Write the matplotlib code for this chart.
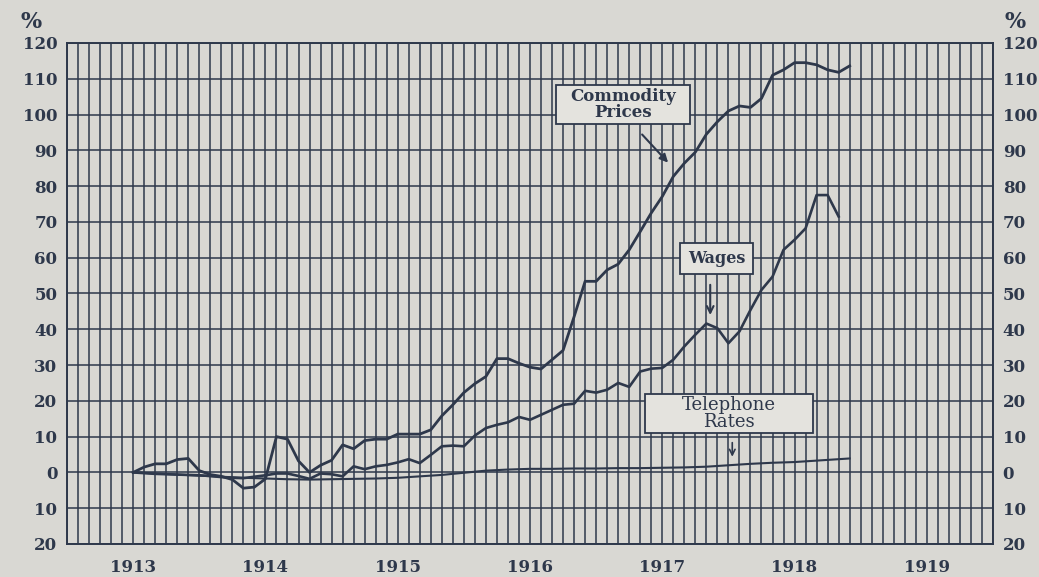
import matplotlib.pyplot as plt
import numpy as np
from matplotlib.patches import Rectangle
from matplotlib.ticker import FuncFormatter

# months counted from Jan 1913 (0 = Jan 1913)
commodity_months = list(range(0, 66))
commodity = [0, 1.5, 2.4, 2.4, 3.6, 3.9, 0.5, -0.6, -1.1, -2.0,
             -4.4, -4.1, -1.8, 10.0, 9.3, 3.2, 0.0, 2.0, 3.4, 7.7,
             6.6, 8.9, 9.3, 9.3, 10.7, 10.7, 10.7, 11.9, 15.8, 18.9,
             22.3, 24.8, 26.8, 31.8, 31.8, 30.5, 29.4, 28.9, 31.5, 34.1,
             43.5, 53.4, 53.4, 56.6, 58.2, 62.2, 67.3, 72.5, 77.1, 82.7,
             86.4, 89.5, 94.5, 98.0, 101.0, 102.4, 102.0, 104.5, 111.0, 112.5,
             114.5, 114.5, 113.9, 112.5, 111.8, 113.6]

wages_months = list(range(0, 65))
wages = [0, -0.2, -0.4, -0.5, -0.6, -0.7, -0.8, -1.0, -1.3, -1.5,
         -1.6, -1.2, -0.8, -0.3, -0.3, -1.0, -1.8, -0.3, -0.5, -1.1,
         1.7, 0.9, 1.7, 2.1, 2.8, 3.7, 2.6, 4.9, 7.3, 7.5,
         7.3, 10.3, 12.4, 13.3, 14.0, 15.5, 14.7, 16.1, 17.5, 18.9,
         19.2, 22.8, 22.3, 23.1, 25.0, 23.9, 28.2, 29.0, 29.2, 31.5,
         35.2, 38.5, 41.6, 40.3, 36.1, 39.4, 45.4, 51.0, 54.7, 62.2,
         65.0, 68.2, 77.5, 77.5, 71.5]

telephone_months = [0, 2, 4, 6, 8, 10, 12, 14, 16, 18, 20, 22, 24, 26, 28, 30, 32,
                    34, 36, 38, 40, 42, 44, 46, 48, 50, 52, 54, 56, 58, 60, 62, 64, 65]
telephone = [0, -0.3, -0.6, -0.9, -1.2, -1.5, -1.7, -1.9, -2.0, -1.9, -1.8, -1.7,
             -1.5, -1.1, -0.7, -0.1, 0.5, 0.8, 1.0, 1.0, 1.1, 1.1, 1.2, 1.2, 1.3,
             1.4, 1.6, 2.0, 2.4, 2.7, 2.9, 3.3, 3.7, 3.9]

years = [1913, 1914, 1915, 1916, 1917, 1918, 1919]

paper = '#d9d8d3'
ink = '#2e384b'

fig = plt.figure(figsize=(10.39, 5.77), dpi=100, facecolor=paper)
ax = fig.add_axes([0.0645, 0.0572, 0.8912, 0.8683], facecolor=paper)

ax.set_xlim(-6, 78)
ax.set_ylim(-20, 120)
ax.set_xticks([12 * i for i in range(len(years))])
ax.set_xticklabels([str(y) for y in years])
ax.set_xticks(np.arange(-6, 79), minor=True)
ax.set_yticks(np.arange(-20, 121, 10))
ax.yaxis.set_major_formatter(FuncFormatter(lambda v, p: f'{abs(int(v))}'))

ax.grid(True, which='both', axis='x', color=ink, lw=1.1)
ax.grid(True, which='major', axis='y', color=ink, lw=1.1)
ax.set_axisbelow(True)
for s in ax.spines.values():
    s.set_color(ink)
    s.set_linewidth(1.4)

ax.tick_params(which='both', length=0, colors=ink)
ax.tick_params(axis='y', labelright=True, pad=7)
ax.tick_params(axis='x', pad=11)
for lab in ax.get_xticklabels() + ax.get_yticklabels():
    lab.set_fontfamily('DejaVu Serif')
    lab.set_fontweight('bold')
    lab.set_fontsize(12)

fig.text(0.030, 0.962, '%', color=ink, fontsize=16, fontweight='bold',
         family='DejaVu Serif', ha='center', va='center')
fig.text(0.977, 0.962, '%', color=ink, fontsize=16, fontweight='bold',
         family='DejaVu Serif', ha='center', va='center')

ax.plot(commodity_months, commodity, color=ink, lw=2.0)
ax.plot(wages_months, wages, color=ink, lw=1.9)
ax.plot(telephone_months, telephone, color=ink, lw=1.5)


def label_box(x0, x1, y0, y1, text, weight='bold', size=11):
    ax.add_patch(Rectangle((x0, y0), x1 - x0, y1 - y0, fc='#e4e3de', ec=ink,
                           lw=1.3, zorder=5))
    ax.text((x0 + x1) / 2, (y0 + y1) / 2, text, family='DejaVu Serif',
            fontweight=weight, fontsize=size, color=ink, ha='center',
            va='center', linespacing=0.95, zorder=6)


label_box(38.35, 50.5, 97.4, 108.3, 'Commodity\nPrices', size=12)
ax.annotate('', xy=(48.7, 86.0), xytext=(46.0, 95.0),
            arrowprops=dict(arrowstyle='-|>', color=ink, lw=1.5, mutation_scale=12))

label_box(49.6, 56.25, 55.5, 64.2, 'Wages', size=11.5)
ax.annotate('', xy=(52.35, 43.2), xytext=(52.35, 53.2),
            arrowprops=dict(arrowstyle='->', color=ink, lw=1.5, mutation_scale=12))

label_box(46.45, 61.7, 11.1, 22.0, 'Telephone\nRates', weight='normal', size=13)
ax.annotate('', xy=(54.35, 3.6), xytext=(54.35, 9.1),
            arrowprops=dict(arrowstyle='->', color=ink, lw=1.2, mutation_scale=10))

fig.savefig('out.png', dpi=100, facecolor=paper)
